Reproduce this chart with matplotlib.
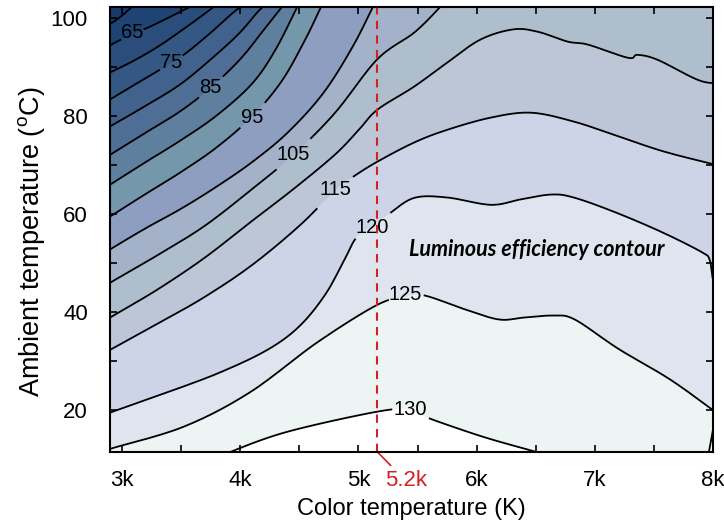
import numpy as np
import matplotlib
matplotlib.use('Agg')
import matplotlib.pyplot as plt
from matplotlib.patches import Polygon

plt.rcParams['font.family'] = ['Liberation Sans', 'DejaVu Sans']
plt.rcParams['mathtext.fontset'] = 'custom'
plt.rcParams['mathtext.rm'] = 'Liberation Sans'

# ---- data: contour lines of luminous efficiency (x: colour temperature in k, y: ambient temperature in C)
levels = [60, 65, 70, 75, 80, 85, 90, 95, 100, 105, 110, 115, 120, 125, 130]

c60_x = [2.85, 2.92, 3.02, 3.12]
c60_y = [98.3, 99.0, 100.8, 103.0]
c65_x = [2.85, 2.95, 3.09, 3.25, 3.42, 3.60, 3.65]
c65_y = [93.6, 95.0, 96.6, 98.3, 100.3, 102.5, 103.2]
c70_x = [2.85, 2.90, 3.10, 3.30, 3.50, 3.70, 3.82]
c70_y = [88.2, 88.8, 91.2, 94.0, 97.3, 100.8, 103.0]
c75_x = [2.85, 2.90, 3.10, 3.42, 3.55, 3.75, 3.94, 4.05]
c75_y = [82.6, 83.3, 86.2, 90.8, 92.9, 96.9, 101.0, 103.0]
c80_x = [2.85, 2.90, 3.20, 3.50, 3.80, 4.00, 4.15, 4.23]
c80_y = [77.1, 77.8, 82.0, 86.5, 92.5, 97.0, 101.2, 103.0]
c85_x = [2.85, 2.90, 3.20, 3.50, 3.75, 4.00, 4.20, 4.38]
c85_y = [71.2, 72.0, 76.5, 81.0, 85.7, 91.5, 97.5, 103.0]
c90_x = [2.85, 2.90, 3.20, 3.50, 3.80, 4.10, 4.30, 4.50]
c90_y = [65.0, 65.9, 70.5, 75.0, 80.0, 86.5, 93.5, 103.0]
c95_x = [2.85, 2.90, 3.20, 3.50, 3.80, 4.10, 4.35, 4.55, 4.70]
c95_y = [58.6, 59.4, 64.0, 68.5, 73.5, 79.8, 87.0, 95.5, 103.0]
c100_x = [2.85, 2.90, 3.20, 3.50, 3.80, 4.10, 4.40, 4.70, 4.95, 5.14]
c100_y = [51.9, 52.7, 57.0, 61.0, 65.5, 70.5, 76.5, 84.5, 94.0, 103.0]
c105_x = [2.85, 2.90, 3.30, 3.70, 4.10, 4.45, 4.80, 5.16, 5.47, 5.67, 5.72]
c105_y = [45.1, 45.9, 51.5, 57.5, 65.0, 72.0, 80.5, 91.5, 96.9, 101.6, 103.0]
c110_x = [2.85, 2.90, 3.30, 3.70, 4.10, 4.45, 4.80, 5.00, 5.16, 5.47, 5.75, 6.03, 6.31,
          6.52, 6.77, 6.94, 7.28, 7.36, 7.53, 7.87, 8.05]
c110_y = [38.0, 38.8, 44.5, 51.0, 58.5, 65.0, 72.0, 77.0, 81.2, 85.9, 90.8, 95.5, 97.6,
          97.1, 95.1, 94.5, 91.8, 92.4, 91.4, 87.3, 86.5]
c115_x = [2.85, 2.90, 3.30, 3.70, 4.10, 4.50, 4.81, 4.96, 5.16, 5.47, 5.75, 6.12, 6.46,
          6.82, 7.16, 7.58, 8.05]
c115_y = [31.5, 32.2, 37.5, 43.0, 49.5, 57.5, 64.9, 67.6, 70.6, 74.5, 77.1, 79.6, 80.6,
          78.8, 76.1, 72.7, 69.8]
c120_x = [2.85, 2.90, 3.38, 3.83, 4.23, 4.50, 4.72, 4.88, 4.98, 5.12, 5.25, 5.47, 5.75,
          6.12, 6.37, 6.63, 6.82, 7.16, 7.56, 7.90, 7.97, 8.00, 8.05]
c120_y = [18.8, 19.4, 23.5, 27.6, 32.2, 37.0, 43.5, 50.5, 55.0, 57.6, 59.8, 63.2, 63.3,
          61.8, 62.9, 63.9, 63.3, 60.4, 56.3, 52.2, 50.6, 46.5, 45.5]
c125_x = [2.85, 2.90, 3.52, 4.08, 4.65, 5.16, 5.40, 5.56, 5.91, 6.19, 6.40, 6.65, 6.83,
          7.20, 7.64, 8.05]
c125_y = [11.3, 12.0, 16.5, 23.5, 33.7, 41.4, 43.0, 43.3, 40.4, 38.4, 38.8, 39.2, 38.4,
          32.4, 26.1, 19.0]
c130_x = [3.88, 3.92, 4.40, 5.16, 5.44, 5.58, 6.05, 6.50, 6.60]
c130_y = [10.6, 11.4, 15.5, 19.6, 20.0, 18.4, 14.5, 11.4, 10.6]
# second small piece of the 130 contour in the lower right corner
c130b_x = [7.96, 8.01]
c130b_y = [10.8, 17.4]

contours = {60: (c60_x, c60_y), 65: (c65_x, c65_y), 70: (c70_x, c70_y), 75: (c75_x, c75_y),
            80: (c80_x, c80_y), 85: (c85_x, c85_y), 90: (c90_x, c90_y), 95: (c95_x, c95_y),
            100: (c100_x, c100_y), 105: (c105_x, c105_y), 110: (c110_x, c110_y),
            115: (c115_x, c115_y), 120: (c120_x, c120_y), 125: (c125_x, c125_y),
            130: (c130_x, c130_y)}

# colour of the band just below each level
band_colors = {60: '#173a6c', 65: '#1f4473', 70: '#2a4d7c', 75: '#345784', 80: '#41628c',
               85: '#4f6e95', 90: '#5f7f9f', 95: '#7497ac', 100: '#8d9ec0', 105: '#a3b2c8',
               110: '#afbecd', 115: '#bdc6d7', 120: '#ced4e7', 125: '#dfe5ef', 130: '#ecf5f4'}
top_color = '#ffffff'

# inline labels: level -> (x, y)
label_pos = {65: (3.09, 96.9), 75: (3.42, 90.8), 85: (3.75, 85.7), 95: (4.10, 79.6),
             105: (4.45, 72.0), 115: (4.81, 64.9), 120: (5.12, 57.1), 125: (5.40, 43.5),
             130: (5.44, 20.0)}

marked_ct = 5.16
xticks = [3, 4, 5, 6, 7, 8]
xticklabels = ['3k', '4k', '5k', '6k', '7k', '8k']
yticks = [20, 40, 60, 80, 100]


def smooth(xs, ys, n=14):
    """Catmull-Rom curve through the read points (drawing only)."""
    p = np.column_stack([xs, ys]).astype(float)
    if len(p) < 3:
        return p[:, 0], p[:, 1]
    p = np.vstack([2 * p[0] - p[1], p, 2 * p[-1] - p[-2]])
    out = []
    t = np.linspace(0, 1, n, endpoint=False)[:, None]
    for i in range(1, len(p) - 2):
        p0, p1, p2, p3 = p[i - 1], p[i], p[i + 1], p[i + 2]
        seg = 0.5 * ((2 * p1) + (-p0 + p2) * t + (2 * p0 - 5 * p1 + 4 * p2 - p3) * t ** 2
                     + (-p0 + 3 * p1 - 3 * p2 + p3) * t ** 3)
        out.append(seg)
    out.append(p[-2][None, :])
    out = np.vstack(out)
    return out[:, 0], out[:, 1]


fig = plt.figure(figsize=(7.24, 5.26), dpi=100)
ax = fig.add_axes([0.152, 0.141, 0.833, 0.846])
ax.set_xlim(2.9, 8.0)
ax.set_ylim(11.4, 102.2)
ax.set_facecolor(top_color)

curves = {lvl: smooth(*contours[lvl]) for lvl in levels}

for lvl in sorted(levels, reverse=True):
    xs, ys = curves[lvl]
    poly = list(zip(xs, ys)) + [(10, ys[-1]), (10, 300), (0, 300), (0, ys[0])]
    ax.add_patch(Polygon(poly, closed=True, fc=band_colors[lvl], ec='none', zorder=1))

# corner region above 130 on the right
ax.add_patch(Polygon(list(zip(c130b_x, c130b_y)) + [(10, c130b_y[-1]), (10, 0), (c130b_x[0], 0)],
                     closed=True, fc=top_color, ec='none', zorder=2))
ax.plot(c130b_x, c130b_y, color='black', lw=1.3, zorder=3)

for lvl in levels:
    xd, yd = curves[lvl]
    yd = yd.copy()
    if lvl in label_pos:
        lx, ly = label_pos[lvl]
        half = 0.10 if lvl < 100 else 0.145
        yd[(xd > lx - half) & (xd < lx + half)] = np.nan
        ax.text(lx, ly, str(lvl), fontsize=14.5, ha='center', va='center', zorder=4)
    ax.plot(xd, yd, color='black', lw=1.3, zorder=3)

ax.axvline(marked_ct, color='#d42020', lw=1.5, ls=(0, (4, 3)), zorder=5)

ax.text(6.51, 52.7, 'Luminous efficiency contour', fontsize=15.5, fontweight='bold',
        fontstyle='italic', family=['Lato', 'Liberation Sans'], ha='center', va='center',
        zorder=4)

ax.set_xticks(xticks)
ax.set_xticklabels(xticklabels)
ax.set_xticks(np.arange(3.5, 8.0, 1.0), minor=True)
ax.set_yticks(yticks)
ax.set_yticks([30, 50, 70, 90], minor=True)
ax.tick_params(which='both', direction='in', top=True, right=True, length=5, width=1.2,
               labelsize=16)
ax.tick_params(axis='x', which='major', pad=13)
ax.tick_params(axis='y', which='major', pad=16)
for s in ax.spines.values():
    s.set_linewidth(1.5)
    s.set_zorder(6)

ax.annotate('5.2k', xy=(marked_ct, 0), xycoords=ax.get_xaxis_transform(),
            xytext=(5.40, -0.065), textcoords=ax.get_xaxis_transform(),
            color='#d42020', fontsize=16, ha='center', va='center',
            arrowprops=dict(arrowstyle='-', color='#d42020', lw=1.2, shrinkA=2, shrinkB=0))

ax.set_xlabel('Color temperature (K)', fontsize=17, labelpad=5)
ax.set_ylabel('Ambient temperature ($^{\\rm o}$C)', fontsize=19.5)
ax.yaxis.set_label_coords(-0.104, 0.472)

fig.savefig('out.png', dpi=100)
